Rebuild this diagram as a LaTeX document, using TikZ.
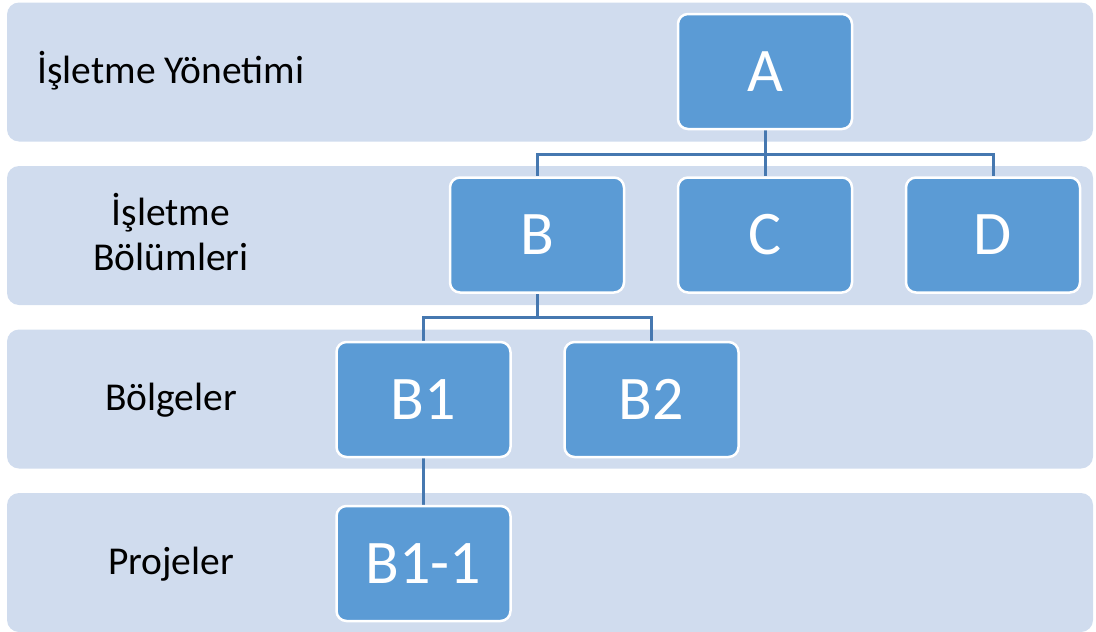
\documentclass[tikz,border=0pt]{standalone}
\usepackage{fontspec}
\setmainfont{Carlito}
\usetikzlibrary{calc}
\pgfdeclarelayer{bg}
\pgfsetlayers{bg,main}
\definecolor{bandfill}{RGB}{208,220,238}
\definecolor{boxfill}{RGB}{91,155,213}
\definecolor{linkcol}{RGB}{70,120,176}
\tikzset{
  band/.style={fill=bandfill, draw=none, rounded corners=12pt,
    minimum width=1086pt, minimum height=139pt, inner sep=0pt},
  lvl/.style={anchor=base, inner sep=0pt, text=black,
    font=\fontsize{39.5}{45}\selectfont},
  unit/.style={fill=boxfill, draw=white, line width=2.5pt, rounded corners=10pt,
    minimum width=174pt, minimum height=115pt, inner sep=0pt, text=white,
    font=\fontsize{62}{70}\selectfont},
  link/.style={draw=linkcol, line width=3pt}
}
\begin{document}
\begin{tikzpicture}[x=1pt,y=-1pt]
\useasboundingbox (0,0) rectangle (1096,632);

% horizontal level bands
\begin{pgfonlayer}{bg}
\node[band] (band1) at (550,72) {};
\node[band] (band2) at (550,235.5) {};
\node[band] (band3) at (550,399) {};
\node[band] (band4) at (550,562.5) {};
\end{pgfonlayer}

% level captions
\node[lvl] (cap1)  at (171,83)  {İşletme Yönetimi};
\node[lvl] (cap2a) at (171,225) {İşletme};
\node[lvl] (cap2b) at (171,270) {Bölümleri};
\node[lvl] (cap3)  at (171,410) {Bölgeler};
\node[lvl] (cap4)  at (171,574) {Projeler};

% organisation units
\node[unit] (A)   at (765,71.5)  {A};
\node[unit] (B)   at (537,235)   {B};
\node[unit] (C)   at (765,235)   {C};
\node[unit] (D)   at (993,235)   {D};
\node[unit] (B1)  at (423.5,399.5) {B1};
\node[unit] (B2)  at (651.5,399.5) {B2};
\node[unit] (B11) at (423.5,563.5) {B1-1};

% tree connectors
\coordinate (busA) at (0,154);
\coordinate (busB) at (0,317);
\begin{pgfonlayer}{bg}
\draw[link] (A.south) -- (A.south |- busA) -| (B.north);
\draw[link] (A.south |- busA) -- (C.north);
\draw[link] (A.south |- busA) -| (D.north);
\draw[link] (B.south) -- (B.south |- busB) -| (B1.north);
\draw[link] (B.south |- busB) -| (B2.north);
\draw[link] (B1.south) -- (B11.north);
\end{pgfonlayer}
\end{tikzpicture}
\end{document}
